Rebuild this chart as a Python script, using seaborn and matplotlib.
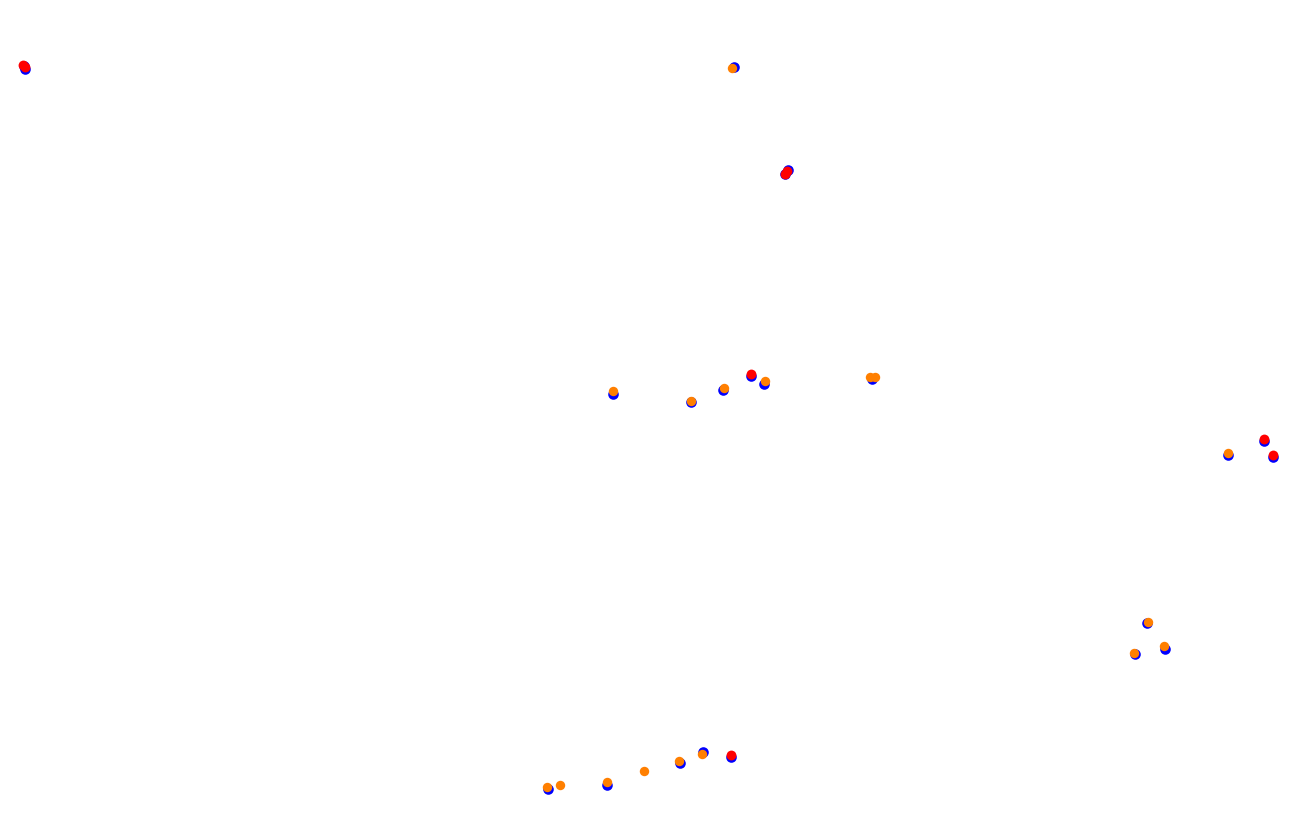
import pandas as pd
import matplotlib.pyplot as plt
import seaborn as sns

# values
blue_x = [25.5, 24, 734.3, 785.5, 788, 613, 691, 723, 751, 764, 872, 1228, 1264, 1273.5, 1147, 1165, 1135, 548, 607, 680, 703, 731]
blue_y = [69.5, 67, 67.5, 175, 171, 394, 402.5, 390.5, 377, 384, 380, 455, 441.5, 457, 623.5, 649, 654, 789, 785, 763, 752, 757]

red_x = [23, 25.5, 785, 787, 751, 1264, 1273, 731]
red_y = [65.5, 68, 175, 172, 374.5, 439.5, 455.5, 755]

orange_x = [732.7, 613, 691, 724, 765, 870, 875, 1228, 1148, 1164, 1134, 547, 560, 607, 644, 679, 702]
orange_y = [68.7, 391.5, 401, 388, 382, 378, 377.5, 453, 622, 646, 653, 787, 785, 782, 771, 761, 754]

blue = pd.DataFrame({'x': blue_x, 'y': blue_y})
red = pd.DataFrame({'x': red_x, 'y': red_y})
orange = pd.DataFrame({'x': orange_x, 'y': orange_y})

fig = plt.figure(figsize=(12.96, 8.22), dpi=100)
ax = fig.add_axes([0, 0, 1, 1])

# drawn in this order, orange ends up on top
for df, color, size in [(blue, '#0000ff', 58), (red, '#ff0000', 50), (orange, '#ff7f00', 46)]:
    sns.scatterplot(data=df, x='x', y='y', color=color, s=size, linewidth=0, ax=ax, antialiased=False)

ax.set_xlim(0.5, 1296.5)
ax.set_ylim(822.5, 0.5)
ax.axis('off')

fig.savefig('out.png', dpi=100, facecolor='white')
